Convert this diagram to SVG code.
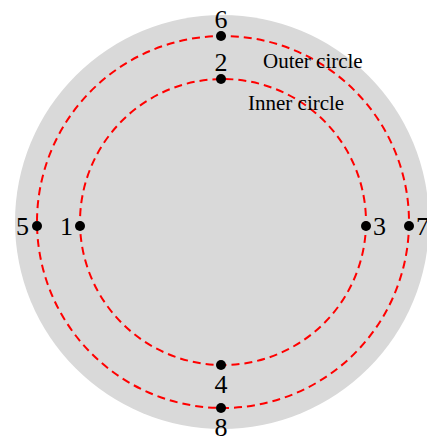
<svg xmlns="http://www.w3.org/2000/svg" width="427" height="436" viewBox="0 0 427 436">
<style>
.circ{fill:none;stroke:#ff0000;stroke-width:2;stroke-dasharray:8 5}
.dot{fill:#000}
.num{font-family:"Liberation Serif",serif;font-size:26px;fill:#000}
.lbl{font-family:"Liberation Serif",serif;font-size:21px;fill:#000}
</style>
<rect width="427" height="436" fill="#fff"/>
<circle cx="222" cy="222" r="207" fill="#d9d9d9"/>
<g id="connectors">
<circle class="circ" cx="223" cy="222" r="186"/>
<circle class="circ" cx="223" cy="222" r="143"/>
</g>
<g id="outer-label"><text class="lbl" x="263" y="68">Outer circle</text></g>
<g id="inner-label"><text class="lbl" x="248" y="110">Inner circle</text></g>
<g id="n1"><circle class="dot" cx="80" cy="226" r="5"/><text class="num" x="73" y="235" text-anchor="end">1</text></g>
<g id="n2"><circle class="dot" cx="221" cy="79" r="5"/><text class="num" x="221" y="71" text-anchor="middle">2</text></g>
<g id="n3"><circle class="dot" cx="366" cy="226" r="5"/><text class="num" x="373" y="235">3</text></g>
<g id="n4"><circle class="dot" cx="221" cy="365" r="5"/><text class="num" x="221" y="393" text-anchor="middle">4</text></g>
<g id="n5"><circle class="dot" cx="37" cy="226" r="5"/><text class="num" x="29" y="235" text-anchor="end">5</text></g>
<g id="n6"><circle class="dot" cx="221" cy="36" r="5"/><text class="num" x="221" y="28" text-anchor="middle">6</text></g>
<g id="n7"><circle class="dot" cx="409" cy="226" r="5"/><text class="num" x="416" y="235">7</text></g>
<g id="n8"><circle class="dot" cx="221" cy="408" r="5"/><text class="num" x="221" y="436" text-anchor="middle">8</text></g>
</svg>
